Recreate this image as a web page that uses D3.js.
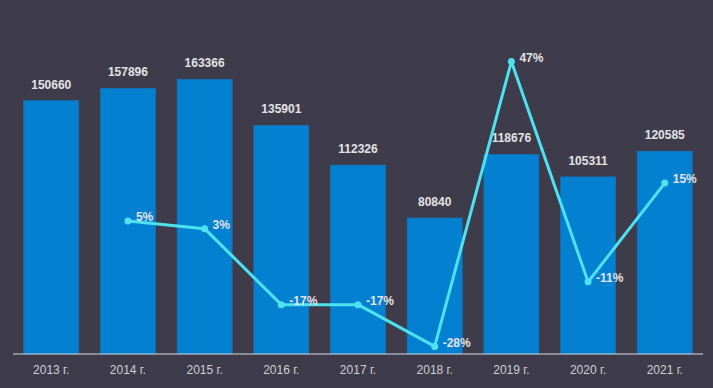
<!DOCTYPE html>
<html><head><meta charset="utf-8">
<script src="https://cdn.jsdelivr.net/npm/d3@7/dist/d3.min.js"></script>
<style>
html,body{margin:0;padding:0;background:#3e3c4b;}
svg{display:block;}
text{font-family:Arial,"Liberation Sans",sans-serif;}
</style></head>
<body>
<svg id="c" width="713" height="388"></svg>
<script>
const categories = ["2013 г.","2014 г.","2015 г.","2016 г.","2017 г.","2018 г.","2019 г.","2020 г.","2021 г."];
const values = [150660,157896,163366,135901,112326,80840,118676,105311,120585];
const growth = [null,5,3,-17,-17,-28,47,-11,15];
const growthLabels = ["","5%","3%","-17%","-17%","-28%","47%","-11%","15%"];

(function(){
const svg = d3.select("#c");
const W = 713, H = 388;
const pl = 13, pr = 703, pt = 16, pb = 354;

svg.append("rect").attr("width",W).attr("height",H).attr("fill","#3e3c4b");

const x = d3.scaleBand().domain(categories).range([pl,pr]).paddingInner(0.283).paddingOuter(0.14);
const y = d3.scaleLinear().domain([0,201000]).range([pb,pt]);
const y2 = d3.scaleLinear().domain([-30,59]).range([pb,pt]);

svg.selectAll("rect.bar").data(values).enter().append("rect")
  .attr("class","bar")
  .attr("x",(d,i)=>x(categories[i]))
  .attr("y",d=>y(d))
  .attr("width",x.bandwidth())
  .attr("height",d=>pb-y(d))
  .attr("fill","#0480d0")
  .attr("stroke","#1470b8").attr("stroke-width",0.8);

svg.selectAll("text.val").data(values).enter().append("text")
  .attr("x",(d,i)=>x(categories[i])+x.bandwidth()/2)
  .attr("y",d=>y(d)-12)
  .attr("text-anchor","middle")
  .attr("font-size",12).attr("font-weight","bold")
  .attr("fill","#e2e2e6")
  .text(d=>d);

const axis = d3.axisBottom(x).tickSize(0).tickPadding(11);
const g = svg.append("g").attr("transform",`translate(0,${pb})`).call(axis);
g.select(".domain").attr("stroke","#d8d8dc").attr("stroke-width",1.2).attr("d",`M${pl},0H${pr}`);
g.selectAll("text").attr("font-size",12).attr("fill","#cfcfd4").attr("font-family","Arial,'Liberation Sans',sans-serif");

const pts = growth.map((v,i)=>({v,c:categories[i],l:growthLabels[i]})).filter(d=>d.v!==null);
const cx = d=>x(d.c)+x.bandwidth()/2;
const line = d3.line().x(cx).y(d=>y2(d.v));
svg.append("path").datum(pts).attr("d",line)
  .attr("fill","none").attr("stroke","#4ee2f0").attr("stroke-width",3).attr("stroke-linejoin","round");
svg.selectAll("circle.pt").data(pts).enter().append("circle")
  .attr("cx",cx).attr("cy",d=>y2(d.v)).attr("r",3.5).attr("fill","#4ee2f0");
svg.selectAll("text.pct").data(pts).enter().append("text")
  .attr("x",d=>cx(d)+8).attr("y",d=>y2(d.v)-4).attr("dy","0.35em")
  .attr("font-size",12).attr("font-weight","bold").attr("fill","#e2e2e6")
  .text(d=>d.l);
})();
</script>
</body></html>
